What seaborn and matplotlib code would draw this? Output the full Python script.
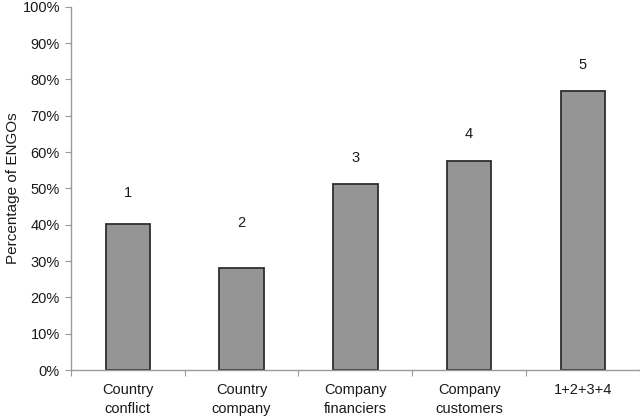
import matplotlib
matplotlib.use("Agg")
import matplotlib.pyplot as plt
import seaborn as sns
import pandas as pd
from matplotlib.ticker import PercentFormatter, FixedLocator

categories = ["Country\nconflict", "Country\ncompany", "Company\nfinanciers",
              "Company\ncustomers", "1+2+3+4"]
values = [40.2, 28.0, 51.2, 57.5, 76.8]
bar_labels = ["1", "2", "3", "4", "5"]
label_heights = [48.8, 40.5, 58.4, 65.0, 84.0]
y_ticks = list(range(0, 101, 10))

sns.set_style("white")
plt.rcParams["font.family"] = ["Liberation Sans", "DejaVu Sans"]

df = pd.DataFrame({"category": categories, "value": values})

fig = plt.figure(figsize=(6.4, 4.19), dpi=100)
ax = fig.add_axes([71 / 640, 1 - 370 / 419, 1 - 71 / 640 - 0.0005, (370 - 6.7) / 419])

sns.barplot(data=df, x="category", y="value", color="#959595", edgecolor="#2e2e2e",
            linewidth=1.3, width=0.39, saturation=1, ax=ax)

for i, (lab, h) in enumerate(zip(bar_labels, label_heights)):
    ax.text(i, h, lab, ha="center", va="center", fontsize=10.5, color="#1a1a1a")

ax.set_xlim(-0.5, 4.5)
ax.set_ylim(0, 100)
ax.yaxis.set_major_locator(FixedLocator(y_ticks))
ax.yaxis.set_major_formatter(PercentFormatter(decimals=0))

ax.set_xlabel("")
ax.set_ylabel("Percentage of ENGOs", fontsize=11, color="#1a1a1a", labelpad=2)

ax.xaxis.set_minor_locator(FixedLocator([-0.5, 0.5, 1.5, 2.5, 3.5, 4.5]))
ax.tick_params(axis="x", which="major", length=0, pad=9, labelsize=10.5,
               labelcolor="#1a1a1a")
ax.tick_params(axis="x", which="minor", length=4, width=0.8, color="#9a9a9a",
               direction="out", bottom=True)
ax.tick_params(axis="y", which="major", length=4, width=0.8, color="#9a9a9a",
               direction="out", left=True, labelsize=10.5, labelcolor="#1a1a1a", pad=4)
for lbl in ax.get_xticklabels():
    lbl.set_linespacing(1.5)

for s in ["top", "right"]:
    ax.spines[s].set_visible(False)
for s in ["left", "bottom"]:
    ax.spines[s].set_color("#9a9a9a")
    ax.spines[s].set_linewidth(1.0)

fig.savefig("out.png", dpi=100, facecolor="white")
